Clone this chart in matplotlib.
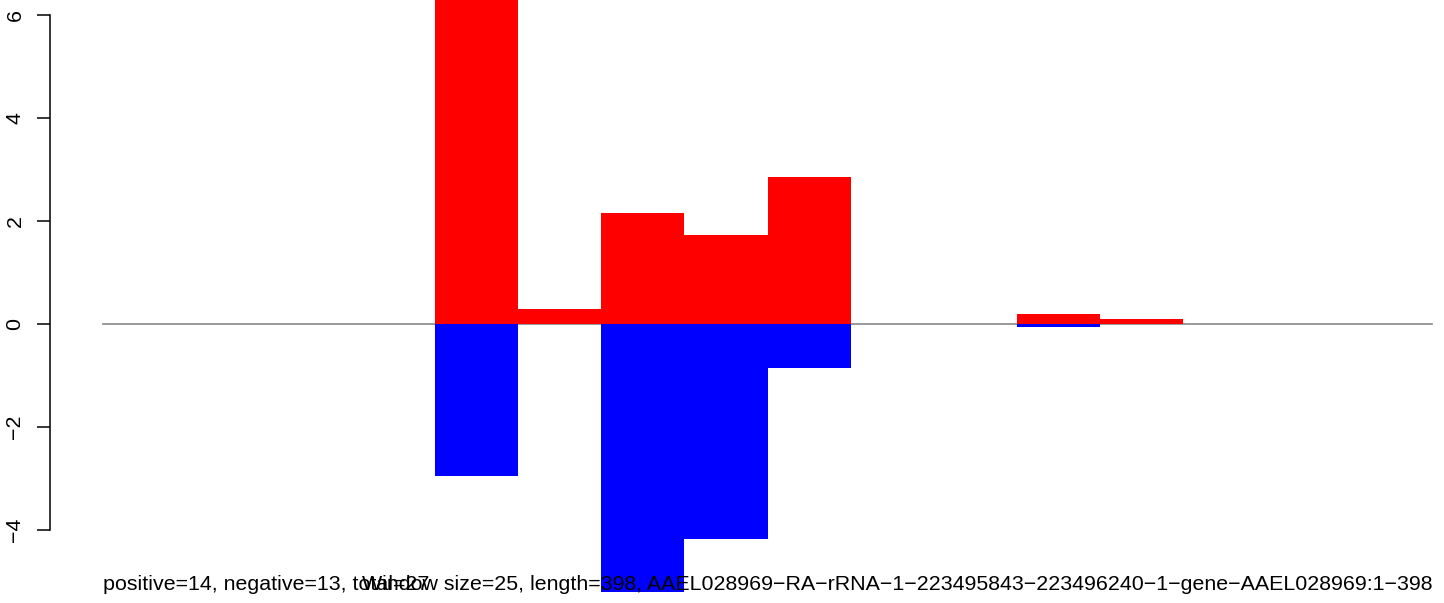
import matplotlib
matplotlib.use("Agg")
import matplotlib.pyplot as plt
import numpy as np

# data
bins = list(range(16))
pos_vals = [0, 0, 0, 0, 6.6, 0.29, 2.15, 1.73, 2.85, 0, 0, 0.19, 0.10, 0, 0, 0]
neg_vals = [0, 0, 0, 0, -2.95, 0, -5.2, -4.18, -0.85, 0, 0, -0.05, 0, 0, 0, 0]
yticks = [-4, -2, 0, 2, 4, 6]
left_text = "positive=14, negative=13, total=27"
right_text = ("Window size=25, length=398, AAEL028969\u2212RA\u2212rRNA\u22121\u2212"
              "223495843\u2212223496240\u22121\u2212gene\u2212AAEL028969:1\u2212398")

W, H = 1444, 603
FS = 15.4
FAM = ['Liberation Sans', 'DejaVu Sans']
fig = plt.figure(figsize=(W / 100, H / 100), dpi=100)
ax = fig.add_axes([0, 0, 1, 1])
plt.rcParams['font.family'] = FAM

px_per_bin = (1432 - 103) / 16.0
x0 = -103 / px_per_bin
x1 = (W - 103) / px_per_bin
ax.set_xlim(x0, x1)
px_per_unit = 51.55
ytop = 324 / px_per_unit
ybot = -(H - 324) / px_per_unit
ax.set_ylim(ybot, ytop)

ax.axhline(0, xmin=(0 - x0) / (x1 - x0), xmax=(16 - x0) / (x1 - x0), color='#888888', lw=1.2, zorder=1)
ax.bar(bins, pos_vals, width=1.0, align='edge', color='#ff0000', lw=0, zorder=2)
ax.bar(bins, neg_vals, width=1.0, align='edge', color='#0000ff', lw=0, zorder=2)

for s in ['top', 'right', 'bottom']:
    ax.spines[s].set_visible(False)
ax.spines['left'].set_position(('data', (50 - 103) / px_per_bin))
ax.spines['left'].set_bounds(-4, 6)
ax.spines['left'].set_linewidth(1.1)
ax.set_yticks(yticks)
ax.set_yticklabels([str(v).replace('-', '\u2212') for v in yticks], rotation=90,
                   va='center', fontsize=FS, family=FAM)
ax.tick_params(axis='y', direction='out', length=9.4, width=1.1, pad=9)
ax.set_xticks([])
ax.patch.set_visible(False)

ybase = -(590 - 324) / px_per_unit
ax.text(0, ybase, left_text, ha='left', va='baseline', fontsize=FS, family=FAM, zorder=5)
ax.text(16, ybase, right_text, ha='right', va='baseline', fontsize=FS, family=FAM, zorder=5)

fig.savefig("out.png", dpi=100)
